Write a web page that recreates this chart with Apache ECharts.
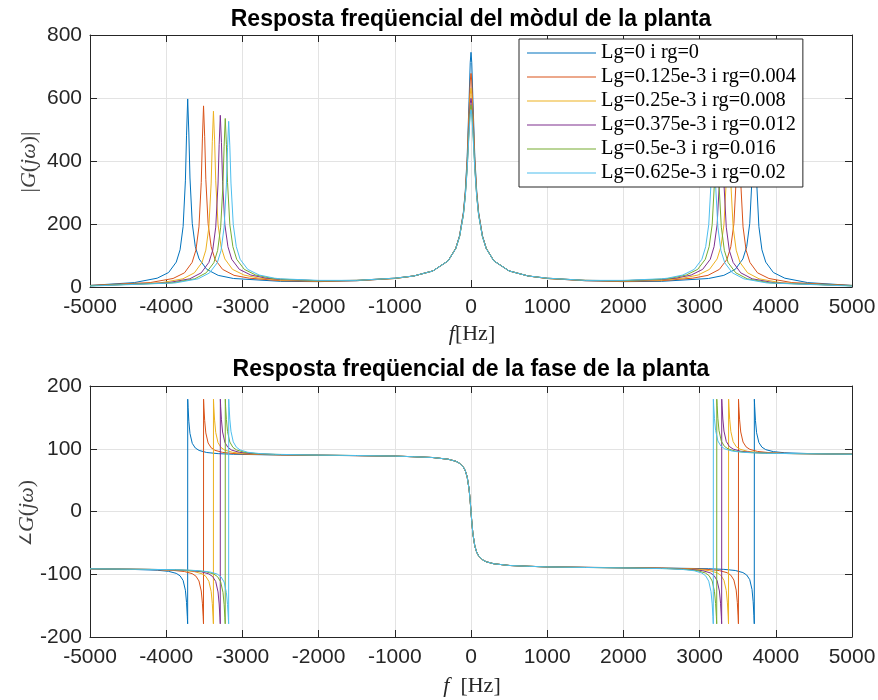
<!DOCTYPE html>
<html><head><meta charset="utf-8">
<script src="https://cdn.jsdelivr.net/npm/echarts/dist/echarts.min.js"></script>
<style>html,body{margin:0;padding:0;background:#fff}#c{width:878px;height:700px}</style>
</head><body><div id="c"></div>
<script>
const seriesNames = ['Lg=0 i rg=0','Lg=0.125e-3 i rg=0.004','Lg=0.25e-3 i rg=0.008','Lg=0.375e-3 i rg=0.012','Lg=0.5e-3 i rg=0.016','Lg=0.625e-3 i rg=0.02'];
const colors = ['#0072BD','#D95319','#EDB120','#7E2F8E','#77AC30','#4DBEEE'];
const titleMag = 'Resposta freqüencial del mòdul de la planta';
const titlePhase = 'Resposta freqüencial de la fase de la planta';
const xRange = [-5000, 5000, 1000];
const magRange = [0, 800, 200];
const phaseRange = [-200, 200, 100];

// |G(jw)| readings [f (Hz), value]
const magBlue = [[-5000,5],[-4418,14],[-4118,28],[-3968,46],[-3868,79],[-3818,118],[-3778,192],[-3748,337],[-3733,482],[-3718,597],[-3703,489],[-3688,346],[-3658,202],[-3618,128],[-3568,89],[-3468,56],[-3318,37],[-3118,27],[-2500,18],[-2000,17],[-1500,20],[-1000,27],[-750,35],[-500,51],[-300,83],[-200,123],[-150,163],[-100,237],[-75,304],[-50,415],[-25,597],[-10,713],[0,745],[10,713],[25,597],[50,415],[75,304],[100,237],[150,163],[200,123],[300,83],[500,51],[750,35],[1000,27],[1500,20],[2000,17],[2500,18],[3118,27],[3318,37],[3468,56],[3568,89],[3618,128],[3658,202],[3688,346],[3703,489],[3718,597],[3733,482],[3748,337],[3778,192],[3818,118],[3868,79],[3968,46],[4118,28],[4418,14],[5000,5]];
const magOrange = [[-5000,5],[-4210,14],[-3910,27],[-3760,45],[-3660,78],[-3610,117],[-3570,191],[-3540,332],[-3525,470],[-3510,575],[-3495,477],[-3480,342],[-3450,201],[-3410,128],[-3360,88],[-3260,56],[-3110,37],[-2910,28],[-2500,20],[-2000,18],[-1500,20],[-1000,27],[-750,35],[-500,51],[-300,83],[-200,123],[-150,162],[-100,235],[-75,299],[-50,402],[-25,561],[-10,654],[0,678],[10,654],[25,561],[50,402],[75,299],[100,235],[150,162],[200,123],[300,83],[500,51],[750,35],[1000,27],[1500,20],[2000,18],[2500,20],[2910,28],[3110,37],[3260,56],[3360,88],[3410,128],[3450,201],[3480,342],[3495,477],[3510,575],[3525,470],[3540,332],[3570,191],[3610,117],[3660,78],[3760,45],[3910,27],[4210,14],[5000,5]];
const magYellow = [[-5000,4],[-4080,13],[-3780,26],[-3630,45],[-3530,78],[-3480,117],[-3440,190],[-3410,330],[-3395,461],[-3380,558],[-3365,467],[-3350,337],[-3320,199],[-3280,128],[-3230,89],[-3130,56],[-2980,38],[-2780,28],[-2500,22],[-2000,19],[-1500,21],[-1000,27],[-750,35],[-500,51],[-300,83],[-200,123],[-150,161],[-100,232],[-75,295],[-50,392],[-25,534],[-10,612],[0,631],[10,612],[25,534],[50,392],[75,295],[100,232],[150,161],[200,123],[300,83],[500,51],[750,35],[1000,27],[1500,21],[2000,19],[2500,22],[2780,28],[2980,38],[3130,56],[3230,89],[3280,128],[3320,199],[3350,337],[3365,467],[3380,558],[3395,461],[3410,330],[3440,190],[3480,117],[3530,78],[3630,45],[3780,26],[4080,13],[5000,4]];
const magPurple = [[-5000,4],[-3990,13],[-3690,26],[-3540,45],[-3440,78],[-3390,116],[-3350,190],[-3320,327],[-3305,453],[-3290,545],[-3275,459],[-3260,334],[-3230,198],[-3190,128],[-3140,88],[-3040,56],[-2890,38],[-2690,28],[-2500,24],[-2000,20],[-1500,21],[-1000,28],[-750,35],[-500,51],[-300,83],[-200,122],[-150,161],[-100,231],[-75,291],[-50,384],[-25,514],[-10,583],[0,599],[10,583],[25,514],[50,384],[75,291],[100,231],[150,161],[200,122],[300,83],[500,51],[750,35],[1000,28],[1500,21],[2000,20],[2500,24],[2690,28],[2890,38],[3040,56],[3140,88],[3190,128],[3230,198],[3260,334],[3275,459],[3290,545],[3305,453],[3320,327],[3350,190],[3390,116],[3440,78],[3540,45],[3690,26],[3990,13],[5000,4]];
const magGreen = [[-5000,4],[-3925,13],[-3625,26],[-3475,45],[-3375,77],[-3325,116],[-3285,190],[-3255,326],[-3240,447],[-3225,535],[-3210,453],[-3195,332],[-3165,198],[-3125,128],[-3075,88],[-2975,56],[-2825,38],[-2625,28],[-2500,25],[-2000,20],[-1500,21],[-1000,28],[-750,35],[-500,51],[-300,83],[-200,122],[-150,160],[-100,229],[-75,289],[-50,378],[-25,500],[-10,563],[0,578],[10,563],[25,500],[50,378],[75,289],[100,229],[150,160],[200,122],[300,83],[500,51],[750,35],[1000,28],[1500,21],[2000,20],[2500,25],[2625,28],[2825,38],[2975,56],[3075,88],[3125,128],[3165,198],[3195,332],[3210,453],[3225,535],[3240,447],[3255,326],[3285,190],[3325,116],[3375,77],[3475,45],[3625,26],[3925,13],[5000,4]];
const magCyan = [[-5000,3],[-3880,13],[-3580,26],[-3430,45],[-3330,77],[-3280,116],[-3240,190],[-3210,324],[-3195,442],[-3180,526],[-3165,448],[-3150,330],[-3120,198],[-3080,128],[-3030,88],[-2930,56],[-2780,38],[-2580,28],[-2500,26],[-2000,21],[-1500,21],[-1000,28],[-750,35],[-500,51],[-300,83],[-200,122],[-150,160],[-100,228],[-75,287],[-50,374],[-25,490],[-10,548],[0,562],[10,548],[25,490],[50,374],[75,287],[100,228],[150,160],[200,122],[300,83],[500,51],[750,35],[1000,28],[1500,21],[2000,21],[2500,26],[2580,28],[2780,38],[2930,56],[3030,88],[3080,128],[3120,198],[3150,330],[3165,448],[3180,526],[3195,442],[3210,324],[3240,190],[3280,116],[3330,77],[3430,45],[3580,26],[3880,13],[5000,3]];

// angle G(jw) readings [f (Hz), degrees]
const phBlue = [[-5000,-91.5],[-4418,-92.4],[-4118,-93.6],[-3968,-95.4],[-3868,-98.6],[-3818,-102.5],[-3778,-109.9],[-3748,-125.5],[-3733,-144.9],[-3723,-167.1],[-3718.5,-179],[-3717.5,179],[-3713,166.1],[-3703,143.8],[-3688,124.3],[-3658,108.6],[-3618,101.2],[-3568,97.3],[-3468,94.0],[-3318,92.2],[-3118,91.2],[-2500,90.0],[-2000,89.5],[-1500,89.0],[-1000,88.2],[-750,87.3],[-500,86.0],[-300,83.3],[-200,80.1],[-150,76.9],[-100,70.7],[-75,65.0],[-50,55.0],[-25,35.5],[-10,15.9],[0,0],[10,-15.9],[25,-35.5],[50,-55.0],[75,-65.0],[100,-70.7],[150,-76.9],[200,-80.1],[300,-83.3],[500,-86.0],[750,-87.3],[1000,-88.2],[1500,-89.0],[2000,-89.5],[2500,-90.0],[3118,-91.2],[3318,-92.2],[3468,-94.0],[3568,-97.3],[3618,-101.2],[3658,-108.6],[3688,-124.3],[3703,-143.8],[3713,-166.1],[3717.5,-179],[3718.5,179],[3723,167.1],[3733,144.9],[3748,125.5],[3778,109.9],[3818,102.5],[3868,98.6],[3968,95.4],[4118,93.6],[4418,92.4],[5000,91.5]];
const phOrange = [[-5000,-91.4],[-4210,-92.4],[-3910,-93.8],[-3760,-95.7],[-3660,-99.0],[-3610,-103.0],[-3570,-110.7],[-3540,-126.7],[-3525,-146.1],[-3515,-167.6],[-3510.5,-179],[-3509.5,179],[-3505,166.4],[-3495,144.8],[-3480,125.2],[-3450,109.2],[-3410,101.5],[-3360,97.5],[-3260,94.2],[-3110,92.3],[-2910,91.2],[-2500,90.2],[-2000,89.6],[-1500,89.0],[-1000,88.2],[-750,87.3],[-500,86.0],[-300,83.3],[-200,80.1],[-150,76.9],[-100,70.7],[-75,65.0],[-50,55.0],[-25,35.5],[-10,15.9],[0,0],[10,-15.9],[25,-35.5],[50,-55.0],[75,-65.0],[100,-70.7],[150,-76.9],[200,-80.1],[300,-83.3],[500,-86.0],[750,-87.3],[1000,-88.2],[1500,-89.0],[2000,-89.6],[2500,-90.2],[2910,-91.2],[3110,-92.3],[3260,-94.2],[3360,-97.5],[3410,-101.5],[3450,-109.2],[3480,-125.2],[3495,-144.8],[3505,-166.4],[3509.5,-179],[3510.5,179],[3515,167.6],[3525,146.1],[3540,126.7],[3570,110.7],[3610,103.0],[3660,99.0],[3760,95.7],[3910,93.8],[4210,92.4],[5000,91.4]];
const phYellow = [[-5000,-91.3],[-4080,-92.5],[-3780,-93.9],[-3630,-95.9],[-3530,-99.3],[-3480,-103.4],[-3440,-111.3],[-3410,-127.5],[-3395,-146.8],[-3385,-168.0],[-3380.5,-179],[-3379.5,179],[-3375,166.8],[-3365,145.6],[-3350,126.0],[-3320,109.7],[-3280,101.8],[-3230,97.7],[-3130,94.3],[-2980,92.3],[-2780,91.2],[-2500,90.4],[-2000,89.7],[-1500,89.1],[-1000,88.3],[-750,87.3],[-500,86.0],[-300,83.3],[-200,80.1],[-150,76.9],[-100,70.7],[-75,65.0],[-50,55.0],[-25,35.5],[-10,15.9],[0,0],[10,-15.9],[25,-35.5],[50,-55.0],[75,-65.0],[100,-70.7],[150,-76.9],[200,-80.1],[300,-83.3],[500,-86.0],[750,-87.3],[1000,-88.3],[1500,-89.1],[2000,-89.7],[2500,-90.4],[2780,-91.2],[2980,-92.3],[3130,-94.3],[3230,-97.7],[3280,-101.8],[3320,-109.7],[3350,-126.0],[3365,-145.6],[3375,-166.8],[3379.5,-179],[3380.5,179],[3385,168.0],[3395,146.8],[3410,127.5],[3440,111.3],[3480,103.4],[3530,99.3],[3630,95.9],[3780,93.9],[4080,92.5],[5000,91.3]];
const phPurple = [[-5000,-91.3],[-3990,-92.6],[-3690,-94.1],[-3540,-96.0],[-3440,-99.5],[-3390,-103.7],[-3350,-111.6],[-3320,-128.2],[-3305,-147.4],[-3295,-168.3],[-3290.5,-179],[-3289.5,179],[-3285,167.1],[-3275,146.2],[-3260,126.7],[-3230,110.2],[-3190,102.1],[-3140,97.8],[-3040,94.3],[-2890,92.4],[-2690,91.3],[-2500,90.6],[-2000,89.8],[-1500,89.1],[-1000,88.3],[-750,87.3],[-500,86.0],[-300,83.3],[-200,80.1],[-150,76.9],[-100,70.7],[-75,65.0],[-50,55.0],[-25,35.5],[-10,15.9],[0,0],[10,-15.9],[25,-35.5],[50,-55.0],[75,-65.0],[100,-70.7],[150,-76.9],[200,-80.1],[300,-83.3],[500,-86.0],[750,-87.3],[1000,-88.3],[1500,-89.1],[2000,-89.8],[2500,-90.6],[2690,-91.3],[2890,-92.4],[3040,-94.3],[3140,-97.8],[3190,-102.1],[3230,-110.2],[3260,-126.7],[3275,-146.2],[3285,-167.1],[3289.5,-179],[3290.5,179],[3295,168.3],[3305,147.4],[3320,128.2],[3350,111.6],[3390,103.7],[3440,99.5],[3540,96.0],[3690,94.1],[3990,92.6],[5000,91.3]];
const phGreen = [[-5000,-91.3],[-3925,-92.7],[-3625,-94.1],[-3475,-96.1],[-3375,-99.7],[-3325,-103.9],[-3285,-112.2],[-3255,-128.8],[-3240,-148.0],[-3230,-168.5],[-3225.5,-179],[-3224.5,179],[-3220,167.3],[-3210,146.8],[-3195,127.4],[-3165,110.7],[-3125,102.3],[-3075,98.0],[-2975,94.4],[-2825,92.4],[-2625,91.2],[-2500,90.8],[-2000,89.8],[-1500,89.2],[-1000,88.3],[-750,87.3],[-500,86.0],[-300,83.3],[-200,80.1],[-150,76.9],[-100,70.7],[-75,65.0],[-50,55.0],[-25,35.5],[-10,15.9],[0,0],[10,-15.9],[25,-35.5],[50,-55.0],[75,-65.0],[100,-70.7],[150,-76.9],[200,-80.1],[300,-83.3],[500,-86.0],[750,-87.3],[1000,-88.3],[1500,-89.2],[2000,-89.8],[2500,-90.8],[2625,-91.2],[2825,-92.4],[2975,-94.4],[3075,-98.0],[3125,-102.3],[3165,-110.7],[3195,-127.4],[3210,-146.8],[3220,-167.3],[3224.5,-179],[3225.5,179],[3230,168.5],[3240,148.0],[3255,128.8],[3285,112.2],[3325,103.9],[3375,99.7],[3475,96.1],[3625,94.1],[3925,92.7],[5000,91.3]];
const phCyan = [[-5000,-91.3],[-3880,-92.7],[-3580,-94.2],[-3430,-96.2],[-3330,-99.8],[-3280,-104.2],[-3240,-112.4],[-3210,-129.3],[-3195,-148.4],[-3185,-168.7],[-3180.5,-179],[-3179.5,179],[-3175,167.5],[-3165,147.2],[-3150,127.8],[-3120,111.0],[-3080,102.6],[-3030,98.1],[-2930,94.4],[-2780,92.4],[-2580,91.2],[-2500,91.0],[-2000,89.9],[-1500,89.2],[-1000,88.3],[-750,87.3],[-500,86.0],[-300,83.3],[-200,80.1],[-150,76.9],[-100,70.7],[-75,65.0],[-50,55.0],[-25,35.5],[-10,15.9],[0,0],[10,-15.9],[25,-35.5],[50,-55.0],[75,-65.0],[100,-70.7],[150,-76.9],[200,-80.1],[300,-83.3],[500,-86.0],[750,-87.3],[1000,-88.3],[1500,-89.2],[2000,-89.9],[2500,-91.0],[2580,-91.2],[2780,-92.4],[2930,-94.4],[3030,-98.1],[3080,-102.6],[3120,-111.0],[3150,-127.8],[3165,-147.2],[3175,-167.5],[3179.5,-179],[3180.5,179],[3185,168.7],[3195,148.4],[3210,129.3],[3240,112.4],[3280,104.2],[3330,99.8],[3430,96.2],[3580,94.2],[3880,92.7],[5000,91.3]];

const magData = [magBlue, magOrange, magYellow, magPurple, magGreen, magCyan];
const phData = [phBlue, phOrange, phYellow, phPurple, phGreen, phCyan];

const AX = '#262626', GRIDC = '#e3e3e3';
const sans = 'Liberation Sans', serif = 'Liberation Serif';
const lbl = {color: AX, fontSize: 21, fontFamily: sans, formatter: v => String(v)};

function xAx(gi, primary) {
  return {type: 'value', gridIndex: gi, min: xRange[0], max: xRange[1], interval: xRange[2],
    position: primary ? 'bottom' : 'top',
    axisLine: {show: true, onZero: false, lineStyle: {color: AX, width: 1}},
    axisTick: {show: true, inside: true, length: 7, lineStyle: {color: AX}},
    axisLabel: primary ? Object.assign({margin: 10}, lbl) : {show: false},
    splitLine: {show: primary, lineStyle: {color: GRIDC, width: 1}}};
}
function yAx(gi, primary, r) {
  return {type: 'value', gridIndex: gi, min: r[0], max: r[1], interval: r[2],
    position: primary ? 'left' : 'right',
    axisLine: {show: true, onZero: false, lineStyle: {color: AX, width: 1}},
    axisTick: {show: true, inside: true, length: 7, lineStyle: {color: AX}},
    axisLabel: primary ? Object.assign({margin: 8}, lbl) : {show: false},
    splitLine: {show: primary, lineStyle: {color: GRIDC, width: 1}}};
}

const series = [];
seriesNames.forEach((n, i) => {
  series.push({type: 'line', name: n, xAxisIndex: 0, yAxisIndex: 0, data: magData[i], symbol: 'none', showSymbol: false,
    lineStyle: {color: colors[i], width: 1}, itemStyle: {color: colors[i]}, z: 2 + i * 0.01, animation: false});
});
seriesNames.forEach((n, i) => {
  series.push({type: 'line', name: n, xAxisIndex: 2, yAxisIndex: 2, data: phData[i], symbol: 'none', showSymbol: false,
    lineStyle: {color: colors[i], width: 1}, itemStyle: {color: colors[i]}, z: 2 + i * 0.01, animation: false});
});

const it = {fontStyle: 'italic', fontFamily: serif, fontSize: 22, fill: AX};
const chart = echarts.init(document.getElementById('c'), null, {renderer: 'canvas'});
chart.setOption({
  backgroundColor: '#fff',
  animation: false,
  grid: [
    {left: 90, top: 35, width: 762, height: 252, containLabel: false, outerBoundsMode: 'none'},
    {left: 90, top: 386, width: 762, height: 251, containLabel: false, outerBoundsMode: 'none'}
  ],
  xAxis: [xAx(0, true), xAx(0, false), xAx(1, true), xAx(1, false)],
  yAxis: [yAx(0, true, magRange), yAx(0, false, magRange), yAx(1, true, phaseRange), yAx(1, false, phaseRange)],
  legend: {
    data: seriesNames.map(n => ({name: n, icon: 'rect'})), orient: 'vertical', left: 519, top: 39, padding: [4, 7, 4, 8],
    backgroundColor: '#fff', borderColor: AX, borderWidth: 1, borderRadius: 0,
    itemWidth: 69, itemHeight: 1.2, itemGap: 4, selectedMode: false, z: 10,
    textStyle: {fontFamily: serif, fontSize: 20.3, color: '#000', lineHeight: 20}
  },
  graphic: [
    {type: 'text', x: 471, y: 20, z: 20, style: {text: titleMag, fontSize: 23, fontWeight: 'bold', fontFamily: sans, fill: '#000', align: 'center', verticalAlign: 'middle'}},
    {type: 'text', x: 471, y: 370, z: 20, style: {text: titlePhase, fontSize: 23, fontWeight: 'bold', fontFamily: sans, fill: '#000', align: 'center', verticalAlign: 'middle'}},
    {type: 'text', x: 472, y: 334, z: 20, style: {text: '{i|f}[Hz]', fontSize: 22, fontFamily: serif, fill: AX, align: 'center', verticalAlign: 'middle', rich: {i: it}}},
    {type: 'text', x: 472, y: 686, z: 20, style: {text: '{i|f}  [Hz]', fontSize: 22, fontFamily: serif, fill: AX, align: 'center', verticalAlign: 'middle', rich: {i: it}}},
    {type: 'text', x: 29, y: 162, rotation: Math.PI / 2, z: 20, style: {text: '|{i|G}({i|jω})|', fontSize: 22, fontFamily: serif, fill: '#404040', align: 'center', verticalAlign: 'middle', rich: {i: Object.assign({}, it, {fill: '#404040'})}}},
    {type: 'text', x: 27, y: 513, rotation: Math.PI / 2, z: 20, style: {text: '{a|∠}{i|G}({i|jω})', fontSize: 22, fontFamily: serif, fill: '#404040', align: 'center', verticalAlign: 'middle', rich: {a: {fontSize: 16, fontFamily: serif, fill: '#404040'}, i: Object.assign({}, it, {fill: '#404040'})}}}
  ],
  series: series
});
</script></body></html>
